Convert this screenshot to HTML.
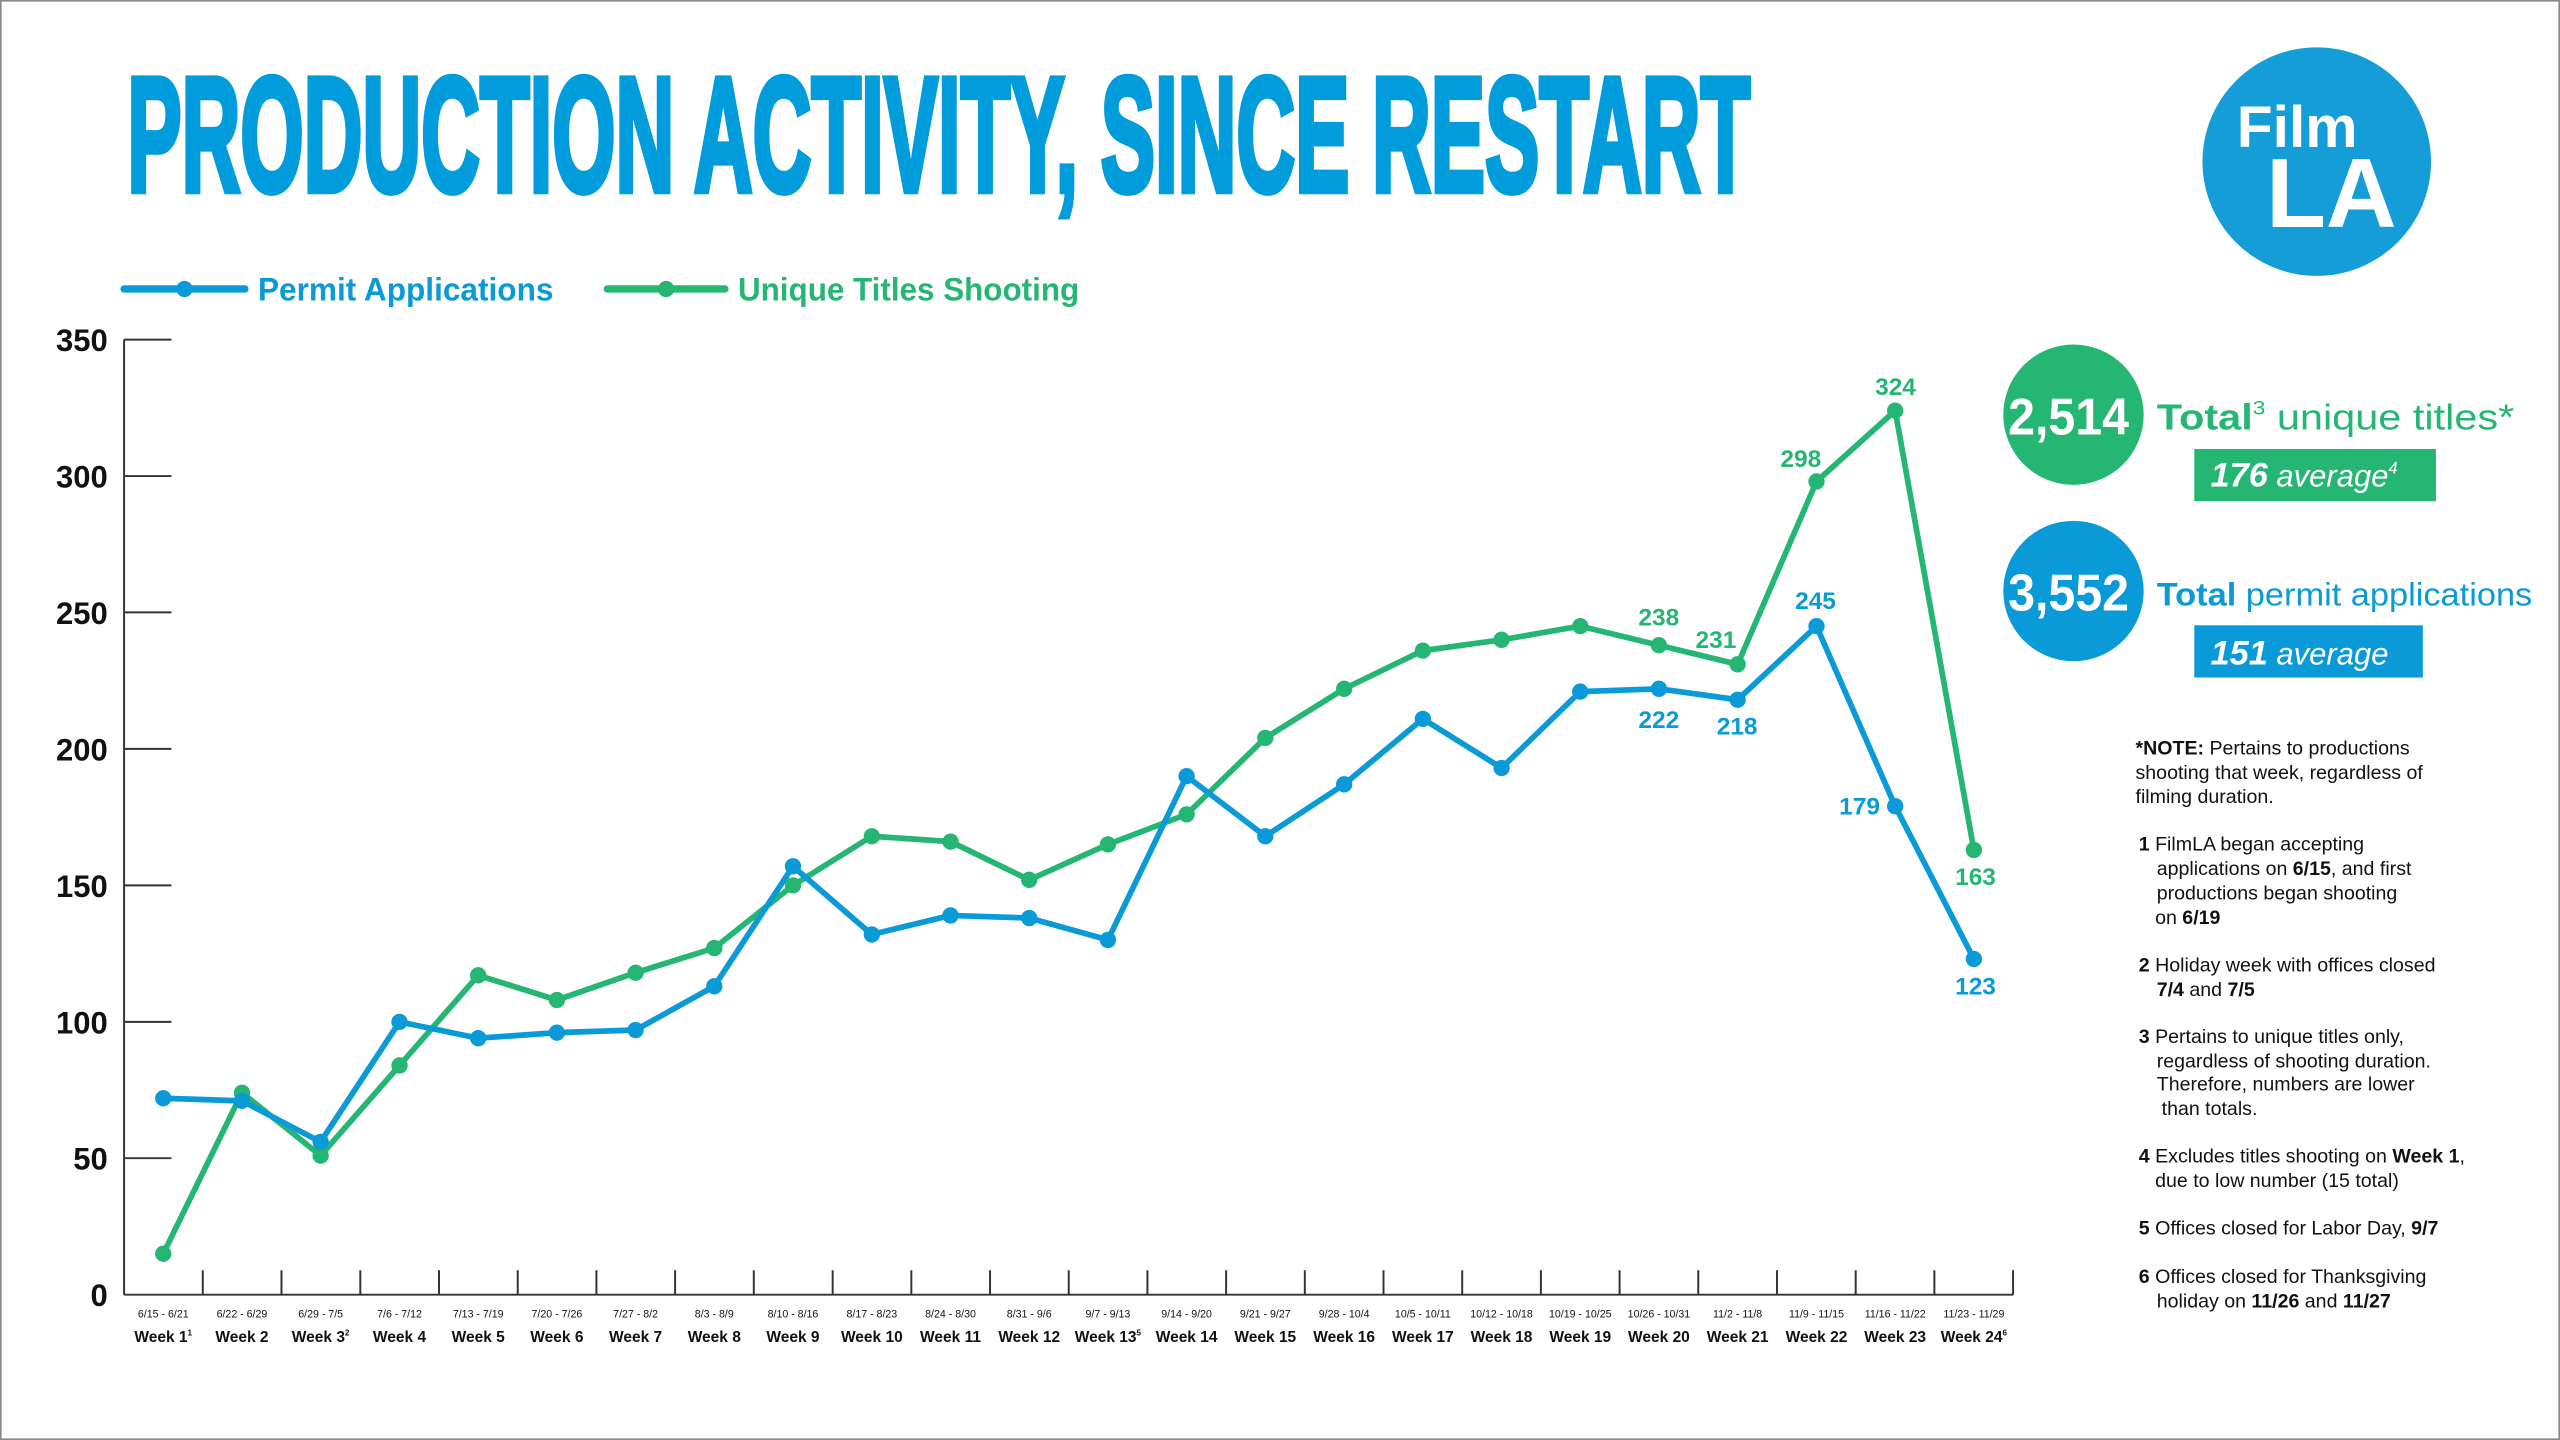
<!DOCTYPE html>
<html><head><meta charset="utf-8"><style>
html,body{margin:0;padding:0;background:#fff;}
svg{display:block;}
</style></head><body>
<svg xmlns="http://www.w3.org/2000/svg" width="2560" height="1440" viewBox="0 0 1568 882">
<rect x="0.5" y="0.5" width="1567" height="881" fill="#fff" stroke="#888" stroke-width="1"/>
<text x="78" y="117" font-family="Liberation Sans Narrow, Liberation Sans, sans-serif" font-weight="bold" font-size="100" fill="#009cdc" stroke="#009cdc" stroke-width="4" textLength="994" lengthAdjust="spacingAndGlyphs">PRODUCTION ACTIVITY, SINCE RESTART</text>
<circle cx="1419" cy="99" r="70" fill="#159dd8"/>
<text x="1370" y="90" font-family="Liberation Sans, sans-serif" font-weight="bold" font-size="36" fill="#fff">Film</text>
<text x="1388" y="139" font-family="Liberation Sans, sans-serif" font-weight="bold" font-size="60" fill="#fff">LA</text>
<g font-family="Liberation Sans Narrow, Liberation Sans, sans-serif" font-weight="bold" font-size="20">
<line x1="76" y1="177" x2="150" y2="177" stroke="#0a9ad8" stroke-width="4.5" stroke-linecap="round"/><circle cx="113" cy="177" r="5" fill="#0a9ad8"/>
<text x="158" y="184" fill="#0a9ad8" textLength="181" lengthAdjust="spacingAndGlyphs">Permit Applications</text>
<line x1="372" y1="177" x2="444" y2="177" stroke="#26b673" stroke-width="4.5" stroke-linecap="round"/><circle cx="408" cy="177" r="5" fill="#26b673"/>
<text x="452" y="184" fill="#26b673" textLength="209" lengthAdjust="spacingAndGlyphs">Unique Titles Shooting</text>
</g>
<g stroke="#333" stroke-width="1.2" fill="none">
<line x1="76" y1="208" x2="76" y2="793"/><line x1="76" y1="793" x2="1233" y2="793"/>
<line x1="76" y1="208" x2="105" y2="208"/><line x1="76" y1="291.6" x2="105" y2="291.6"/><line x1="76" y1="375.1" x2="105" y2="375.1"/><line x1="76" y1="458.7" x2="105" y2="458.7"/><line x1="76" y1="542.3" x2="105" y2="542.3"/><line x1="76" y1="625.9" x2="105" y2="625.9"/><line x1="76" y1="709.4" x2="105" y2="709.4"/>
<path d="M124.2 778V793M172.4 778V793M220.7 778V793M268.9 778V793M317.1 778V793M365.3 778V793M413.5 778V793M461.7 778V793M510 778V793M558.2 778V793M606.4 778V793M654.6 778V793M702.8 778V793M751 778V793M799.2 778V793M847.4 778V793M895.6 778V793M943.8 778V793M992 778V793M1040.2 778V793M1088.4 778V793M1136.6 778V793M1184.8 778V793M1233 778V793"/>
</g>
<g font-family="Liberation Sans Narrow, Liberation Sans, sans-serif" font-weight="bold" font-size="19" fill="#111" text-anchor="end">
<text x="66" y="215">350</text><text x="66" y="298.6">300</text><text x="66" y="382.1">250</text><text x="66" y="465.7">200</text><text x="66" y="549.3">150</text><text x="66" y="632.9">100</text><text x="66" y="716.4">50</text><text x="66" y="800">0</text>
</g>
<g font-family="Liberation Sans Narrow, Liberation Sans, sans-serif" font-size="6.5" fill="#111" text-anchor="middle">
<text x="100" y="807">6/15 - 6/21</text><text x="148.2" y="807">6/22 - 6/29</text><text x="196.4" y="807">6/29 - 7/5</text><text x="244.7" y="807">7/6 - 7/12</text><text x="292.9" y="807">7/13 - 7/19</text><text x="341.1" y="807">7/20 - 7/26</text><text x="389.3" y="807">7/27 - 8/2</text><text x="437.5" y="807">8/3 - 8/9</text><text x="485.7" y="807">8/10 - 8/16</text><text x="534" y="807">8/17 - 8/23</text><text x="582.2" y="807">8/24 - 8/30</text><text x="630.4" y="807">8/31 - 9/6</text><text x="678.6" y="807">9/7 - 9/13</text><text x="726.8" y="807">9/14 - 9/20</text><text x="775" y="807">9/21 - 9/27</text><text x="823.3" y="807">9/28 - 10/4</text><text x="871.5" y="807">10/5 - 10/11</text><text x="919.7" y="807">10/12 - 10/18</text><text x="967.9" y="807">10/19 - 10/25</text><text x="1016.1" y="807">10/26 - 10/31</text><text x="1064.3" y="807">11/2 - 11/8</text><text x="1112.6" y="807">11/9 - 11/15</text><text x="1160.8" y="807">11/16 - 11/22</text><text x="1209" y="807">11/23 - 11/29</text>
</g>
<g font-family="Liberation Sans Narrow, Liberation Sans, sans-serif" font-weight="bold" font-size="9.5" fill="#111" text-anchor="middle">
<text x="100" y="822">Week 1<tspan font-size="5" dy="-4">1</tspan></text><text x="148.2" y="822">Week 2</text><text x="196.4" y="822">Week 3<tspan font-size="5" dy="-4">2</tspan></text><text x="244.7" y="822">Week 4</text><text x="292.9" y="822">Week 5</text><text x="341.1" y="822">Week 6</text><text x="389.3" y="822">Week 7</text><text x="437.5" y="822">Week 8</text><text x="485.7" y="822">Week 9</text><text x="534" y="822">Week 10</text><text x="582.2" y="822">Week 11</text><text x="630.4" y="822">Week 12</text><text x="678.6" y="822">Week 13<tspan font-size="5" dy="-4">5</tspan></text><text x="726.8" y="822">Week 14</text><text x="775" y="822">Week 15</text><text x="823.3" y="822">Week 16</text><text x="871.5" y="822">Week 17</text><text x="919.7" y="822">Week 18</text><text x="967.9" y="822">Week 19</text><text x="1016.1" y="822">Week 20</text><text x="1064.3" y="822">Week 21</text><text x="1112.6" y="822">Week 22</text><text x="1160.8" y="822">Week 23</text><text x="1209" y="822">Week 24<tspan font-size="5" dy="-4">6</tspan></text>
</g>
<polyline fill="none" stroke="#26b673" stroke-width="3.5" stroke-linejoin="round" points="100,767.9 148.2,669.3 196.4,707.8 244.7,652.6 292.9,597.4 341.1,612.5 389.3,595.8 437.5,580.7 485.7,542.3 534,512.2 582.2,515.5 630.4,538.9 678.6,517.2 726.8,498.8 775,452 823.3,421.9 871.5,398.5 919.7,391.9 967.9,383.5 1016.1,395.2 1064.3,406.9 1112.6,294.9 1160.8,251.5 1209,520.6"/>
<polyline fill="none" stroke="#0a9ad8" stroke-width="3.5" stroke-linejoin="round" points="100,672.7 148.2,674.3 196.4,699.4 244.7,625.9 292.9,635.9 341.1,632.5 389.3,630.9 437.5,604.1 485.7,530.6 534,572.4 582.2,560.7 630.4,562.3 678.6,575.7 726.8,475.4 775,512.2 823.3,480.4 871.5,440.3 919.7,470.4 967.9,423.6 1016.1,421.9 1064.3,428.6 1112.6,383.5 1160.8,493.8 1209,587.4"/>
<g fill="#26b673">
<circle cx="100" cy="767.9" r="5"/><circle cx="148.2" cy="669.3" r="5"/><circle cx="196.4" cy="707.8" r="5"/><circle cx="244.7" cy="652.6" r="5"/><circle cx="292.9" cy="597.4" r="5"/><circle cx="341.1" cy="612.5" r="5"/><circle cx="389.3" cy="595.8" r="5"/><circle cx="437.5" cy="580.7" r="5"/><circle cx="485.7" cy="542.3" r="5"/><circle cx="534" cy="512.2" r="5"/><circle cx="582.2" cy="515.5" r="5"/><circle cx="630.4" cy="538.9" r="5"/><circle cx="678.6" cy="517.2" r="5"/><circle cx="726.8" cy="498.8" r="5"/><circle cx="775" cy="452" r="5"/><circle cx="823.3" cy="421.9" r="5"/><circle cx="871.5" cy="398.5" r="5"/><circle cx="919.7" cy="391.9" r="5"/><circle cx="967.9" cy="383.5" r="5"/><circle cx="1016.1" cy="395.2" r="5"/><circle cx="1064.3" cy="406.9" r="5"/><circle cx="1112.6" cy="294.9" r="5"/><circle cx="1160.8" cy="251.5" r="5"/><circle cx="1209" cy="520.6" r="5"/>
</g>
<g fill="#0a9ad8">
<circle cx="100" cy="672.7" r="5"/><circle cx="148.2" cy="674.3" r="5"/><circle cx="196.4" cy="699.4" r="5"/><circle cx="244.7" cy="625.9" r="5"/><circle cx="292.9" cy="635.9" r="5"/><circle cx="341.1" cy="632.5" r="5"/><circle cx="389.3" cy="630.9" r="5"/><circle cx="437.5" cy="604.1" r="5"/><circle cx="485.7" cy="530.6" r="5"/><circle cx="534" cy="572.4" r="5"/><circle cx="582.2" cy="560.7" r="5"/><circle cx="630.4" cy="562.3" r="5"/><circle cx="678.6" cy="575.7" r="5"/><circle cx="726.8" cy="475.4" r="5"/><circle cx="775" cy="512.2" r="5"/><circle cx="823.3" cy="480.4" r="5"/><circle cx="871.5" cy="440.3" r="5"/><circle cx="919.7" cy="470.4" r="5"/><circle cx="967.9" cy="423.6" r="5"/><circle cx="1016.1" cy="421.9" r="5"/><circle cx="1064.3" cy="428.6" r="5"/><circle cx="1112.6" cy="383.5" r="5"/><circle cx="1160.8" cy="493.8" r="5"/><circle cx="1209" cy="587.4" r="5"/>
</g>
<g font-family="Liberation Sans, sans-serif" font-weight="bold" font-size="15" text-anchor="middle">
<g fill="#26b673"><text x="1016" y="383">238</text><text x="1051" y="397">231</text><text x="1103" y="286">298</text><text x="1161" y="242">324</text><text x="1210" y="542">163</text></g>
<g fill="#0a9ad8"><text x="1016" y="446">222</text><text x="1064" y="450">218</text><text x="1112" y="373">245</text><text x="1139" y="499">179</text><text x="1210" y="609">123</text></g>
</g>
<circle cx="1270" cy="254" r="43" fill="#26b673"/>
<text x="1230" y="266" font-family="Liberation Sans Narrow, Liberation Sans, sans-serif" font-weight="bold" font-size="32" fill="#fff" textLength="74" lengthAdjust="spacingAndGlyphs">2,514</text>
<text x="1321" y="263" font-family="Liberation Sans, sans-serif" font-size="22" fill="#26b673" textLength="219" lengthAdjust="spacingAndGlyphs"><tspan font-weight="bold">Total</tspan><tspan font-size="12" dy="-9">3</tspan><tspan dy="9"> unique titles*</tspan></text>
<rect x="1344" y="275" width="148" height="32" fill="#26b673"/>
<text x="1354" y="298" font-family="Liberation Sans, sans-serif" font-style="italic" font-size="19" fill="#fff"><tspan font-weight="bold" font-size="21">176</tspan> average<tspan font-size="10" dy="-8">4</tspan></text>
<circle cx="1270" cy="362" r="43" fill="#0a9ad8"/>
<text x="1230" y="374" font-family="Liberation Sans Narrow, Liberation Sans, sans-serif" font-weight="bold" font-size="32" fill="#fff" textLength="74" lengthAdjust="spacingAndGlyphs">3,552</text>
<text x="1321" y="371" font-family="Liberation Sans, sans-serif" font-size="20" fill="#0a9ad8" textLength="230" lengthAdjust="spacingAndGlyphs"><tspan font-weight="bold">Total</tspan> permit applications</text>
<rect x="1344" y="383" width="140" height="32" fill="#0a9ad8"/>
<text x="1354" y="407" font-family="Liberation Sans, sans-serif" font-style="italic" font-size="19" fill="#fff"><tspan font-weight="bold" font-size="21">151</tspan> average</text>
<g font-family="Liberation Sans, sans-serif" font-size="12" fill="#111">
<text x="1308" y="462"><tspan font-weight="bold">*NOTE:</tspan> Pertains to productions</text>
<text x="1308" y="477">shooting that week, regardless of</text>
<text x="1308" y="492">filming duration.</text>
<text x="1310" y="521"><tspan font-weight="bold">1</tspan> FilmLA began accepting</text>
<text x="1321" y="536">applications on <tspan font-weight="bold">6/15</tspan>, and first</text>
<text x="1321" y="551">productions began shooting</text>
<text x="1320" y="566">on <tspan font-weight="bold">6/19</tspan></text>
<text x="1310" y="595"><tspan font-weight="bold">2</tspan> Holiday week with offices closed</text>
<text x="1321" y="610"><tspan font-weight="bold">7/4</tspan> and <tspan font-weight="bold">7/5</tspan></text>
<text x="1310" y="639"><tspan font-weight="bold">3</tspan> Pertains to unique titles only,</text>
<text x="1321" y="654">regardless of shooting duration.</text>
<text x="1321" y="668">Therefore, numbers are lower</text>
<text x="1324" y="683">than totals.</text>
<text x="1310" y="712"><tspan font-weight="bold">4</tspan> Excludes titles shooting on <tspan font-weight="bold">Week 1</tspan>,</text>
<text x="1320" y="727">due to low number (15 total)</text>
<text x="1310" y="756"><tspan font-weight="bold">5</tspan> Offices closed for Labor Day, <tspan font-weight="bold">9/7</tspan></text>
<text x="1310" y="786"><tspan font-weight="bold">6</tspan> Offices closed for Thanksgiving</text>
<text x="1321" y="801">holiday on <tspan font-weight="bold">11/26</tspan> and <tspan font-weight="bold">11/27</tspan></text>
</g>
</svg>
</body></html>
